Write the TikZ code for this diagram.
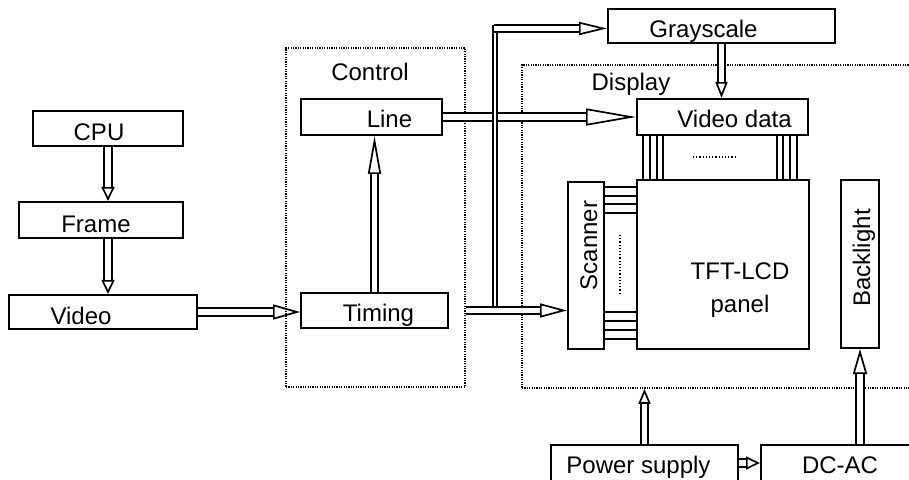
\documentclass[tikz,border=0pt]{standalone}
\usepackage{fontspec}
\setmainfont{Liberation Sans}
\usepackage{tikz}
\usetikzlibrary{arrows.meta}

\tikzset{
  box/.style={draw, line width=1pt, inner sep=0pt},
  group/.style={draw, line width=0.8pt, dash pattern=on 0.6pt off 0.6pt, inner sep=0pt},
  txt/.style={text height=8.6pt, text depth=0pt, inner sep=0pt},
  harrow/.style 2 args={line width=0.85pt, -{Triangle[open,length=#1,width=#2]},
    postaction={draw, -, double, double distance=2.9pt, shorten >=#1}},
  bus/.style={line width=0.85pt, double, double distance=1.2pt},
  wire/.style={line width=0.9pt},
  dots/.style={line width=0.7pt, dash pattern=on 0.6pt off 1pt}
}

\begin{document}
\begin{tikzpicture}[x=0.5pt, y=-0.5pt, font=\fontsize{12}{14}\selectfont]
\useasboundingbox (0,0) rectangle (909,480);
\clip (0,0) rectangle (909,480);
\node[group, minimum width=89.5pt, minimum height=169.5pt] (control) at (375.5,217.5) {};
\node[group, minimum width=196.5pt, minimum height=161.5pt] (display) at (718.5,226.5) {};
\node[txt] (controllabel) at (370,72) {Control};
\node[txt] (displaylabel) at (631,82) {Display};
\node[box, minimum width=75pt, minimum height=17.5pt, label={[txt, xshift=-4.5pt, yshift=-1.5pt]center:CPU}] (cpu) at (108,128.5) {};
\node[box, minimum width=82pt, minimum height=18pt, label={[txt, xshift=-2.5pt, yshift=-2pt]center:Frame}] (frame) at (101,220) {};
\node[box, minimum width=94pt, minimum height=17pt, label={[txt, xshift=-11pt, yshift=-2pt]center:Video}] (video) at (103,312) {};
\node[box, minimum width=70.5pt, minimum height=18pt, label={[txt, xshift=9pt, yshift=-1pt]center:Line}] (line) at (371.5,117) {};
\node[box, minimum width=73.5pt, minimum height=17.5pt, label={[txt, xshift=2pt, yshift=-1pt]center:Timing}] (timing) at (374.5,310.5) {};
\node[box, minimum width=113.5pt, minimum height=17pt, label={[txt, xshift=-9pt, yshift=-1.5pt]center:Grayscale}] (grayscale) at (721.5,26) {};
\node[box, minimum width=85.5pt, minimum height=18pt, label={[txt, xshift=6pt, yshift=-1pt]center:Video data}] (vdata) at (722.5,117) {};
\node[box, minimum width=18pt, minimum height=83.5pt, label={[txt, xshift=1.2pt, yshift=10pt, rotate=90]center:Scanner}] (scanner) at (586,265.5) {};
\node[box, minimum width=86pt, minimum height=84.5pt, label={[align=center, font=\fontsize{12}{16.4}\selectfont, inner sep=0pt, xshift=8.5pt, yshift=-12.9pt]center:TFT-LCD\\panel}] (panel) at (723,264.5) {};
\node[box, minimum width=19pt, minimum height=84pt, label={[txt, xshift=0.8pt, yshift=3pt, rotate=90]center:Backlight}] (backlight) at (860,264) {};
\node[box, minimum width=93.5pt, minimum height=18pt, label={[txt, xshift=-3pt, yshift=-1pt]center:Power supply}] (power) at (644.5,463) {};
\node[box, minimum width=82pt, minimum height=18pt, label={[txt, xshift=-1.5pt, yshift=-1pt]center:DC-AC}] (dcac) at (843,463) {};
\foreach \y in {187,196,204,213,312,321,330,339}
  \draw[wire] (scanner.east |- 0,\y) -- (panel.west |- 0,\y);
\foreach \x in {643,650,657,663,777,783,790,797}
  \draw[wire] (vdata.south -| \x,0) -- (panel.north -| \x,0);
\draw[dots] (693,157) -- (735,157);
\draw[dots] (620,235) -- (620,293);
\draw[harrow={7pt}{6.5pt}] (cpu.south) -- (cpu.south |- frame.north);
\draw[harrow={7pt}{6.5pt}] (cpu.south |- frame.south) -- (cpu.south |- video.north);
\draw[harrow={13.5pt}{7.5pt}] (video.east) -- (video.east -| timing.west);
\draw[harrow={19pt}{6.5pt}] (timing.north) -- (timing.north |- line.south);
\draw[harrow={25pt}{8.5pt}] (line.east) -- (line.east -| vdata.west);
\coordinate (busfoot) at (495,308.5);
\coordinate (bustop) at (495,25);
\coordinate (busturn) at (494,28.5);
\draw[bus] (busfoot) -- (bustop);
\draw[harrow={14pt}{6.5pt}] (busturn) -- (busturn -| grayscale.west);
\draw[harrow={13.5pt}{7pt}] (timing -| control.east) -- (timing -| scanner.west);
\draw[harrow={8pt}{6pt}] (grayscale.south) -- (grayscale.south |- vdata.north);
\draw[harrow={7.5pt}{6pt}] (power.north) -- (power.north |- display.south);
\draw[harrow={12.5pt}{7pt}] (backlight.south |- dcac.north) -- (backlight.south);
\draw[harrow={7pt}{6.5pt}] (power.east) -- (dcac.west);
\end{tikzpicture}
\end{document}
